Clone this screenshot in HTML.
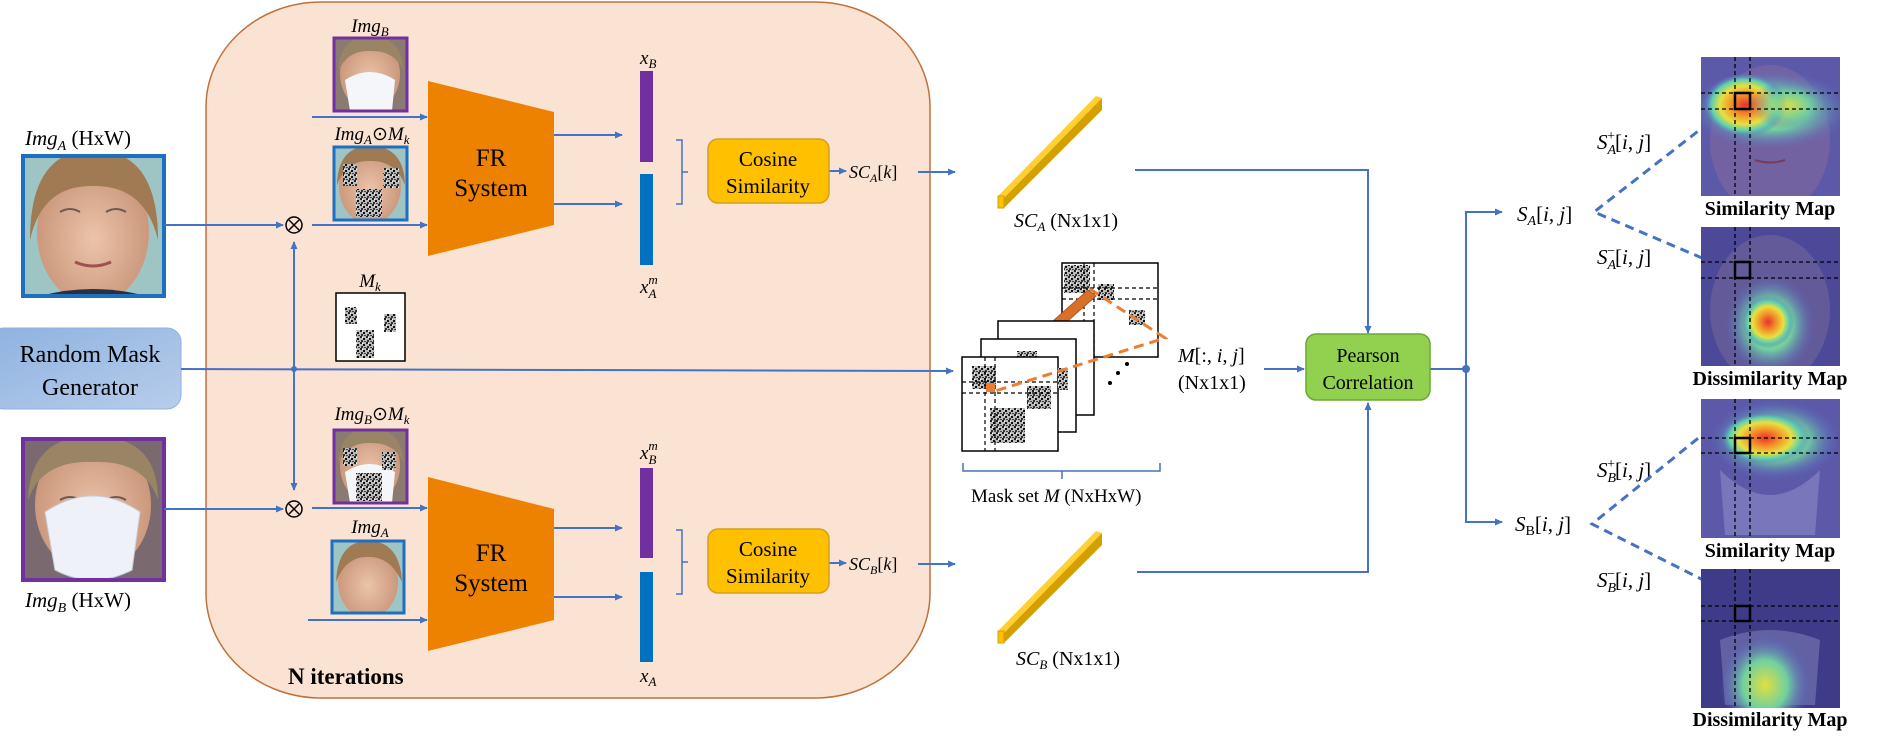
<!DOCTYPE html>
<html><head><meta charset="utf-8"><style>
html,body{margin:0;padding:0;background:#fff;}
svg{display:block;}
text{font-family:"Liberation Serif",serif;fill:#000;}
.it{font-style:italic;}
</style></head><body>
<svg width="1897" height="746" viewBox="0 0 1897 746" xmlns="http://www.w3.org/2000/svg">
<defs>
<marker id="ar" markerWidth="8" markerHeight="8" refX="7" refY="4" orient="auto" markerUnits="userSpaceOnUse"><path d="M0,0.5 L8,4 L0,7.5 Z" fill="#4472c4"/></marker>
<pattern id="noise" width="6" height="6" patternUnits="userSpaceOnUse"><rect width="6" height="6" fill="#bbb"/><rect x="0" y="0" width="2" height="2" fill="#222"/><rect x="3" y="2" width="2" height="2" fill="#111"/><rect x="1" y="4" width="2" height="2" fill="#333"/><rect x="4" y="5" width="2" height="1" fill="#444"/><rect x="2" y="1" width="1" height="1" fill="#fff"/></pattern>
<radialGradient id="hot" cx="50%" cy="50%" r="50%"><stop offset="0" stop-color="#e8322a"/><stop offset="0.35" stop-color="#f39a2a"/><stop offset="0.6" stop-color="#e8e040"/><stop offset="0.8" stop-color="#5cd0b0"/><stop offset="1" stop-color="#5a64c8" stop-opacity="0"/></radialGradient>
<radialGradient id="warm" cx="50%" cy="50%" r="50%"><stop offset="0" stop-color="#e0e040"/><stop offset="0.5" stop-color="#70d0a0"/><stop offset="1" stop-color="#5a64c8" stop-opacity="0"/></radialGradient>
<linearGradient id="rmg" x1="0" y1="0" x2="1" y2="1"><stop offset="0" stop-color="#8fb2e0"/><stop offset="1" stop-color="#b7cdeb"/></linearGradient>
<radialGradient id="skin" cx="50%" cy="55%" r="55%"><stop offset="0" stop-color="#ecc4aa"/><stop offset="1" stop-color="#c89478"/></radialGradient>
<clipPath id="cA"><rect x="23" y="156" width="141" height="140"/></clipPath>
<clipPath id="cB"><rect x="23" y="439" width="141" height="141"/></clipPath>
<clipPath id="c1"><rect x="334" y="38" width="73" height="73"/></clipPath>
<clipPath id="c2"><rect x="334" y="147" width="73" height="73"/></clipPath>
<clipPath id="c3"><rect x="334" y="430" width="73" height="73"/></clipPath>
<clipPath id="c4"><rect x="332" y="541" width="72" height="72"/></clipPath>
<clipPath id="h1"><rect x="1701" y="57" width="139" height="139"/></clipPath>
<clipPath id="h2"><rect x="1701" y="227" width="139" height="139"/></clipPath>
<clipPath id="h3"><rect x="1701" y="399" width="139" height="139"/></clipPath>
<clipPath id="h4"><rect x="1701" y="569" width="139" height="139"/></clipPath>
</defs>

<rect x="206" y="2" width="724" height="696" rx="115" ry="105" fill="#fbe3d4" stroke="#c0703a" stroke-width="1.5"/>

<!-- Img A big -->
<g clip-path="url(#cA)">
<rect x="23" y="156" width="141" height="140" fill="#9ec4c4"/>
<ellipse cx="93" cy="232" rx="56" ry="72" fill="url(#skin)"/>
<path d="M30,240 Q30,150 93,150 Q158,150 158,240 Q145,185 93,186 Q42,185 30,240Z" fill="#a07a52"/>
<path d="M60,212 Q70,206 80,212 M106,212 Q116,206 126,212" stroke="#6a5a55" stroke-width="2" fill="none"/>
<path d="M75,262 Q93,270 111,262" stroke="#a05050" stroke-width="3" fill="none"/>
<path d="M40,296 Q93,282 146,296Z" fill="#2a3040"/>
</g>
<rect x="23" y="156" width="141" height="140" fill="none" stroke="#1f6fc0" stroke-width="4"/>
<text x="25" y="145" font-size="21"><tspan class="it">Img</tspan><tspan class="it" font-size="14" dy="5">A</tspan><tspan dy="-5"> (HxW)</tspan></text>

<!-- Img B big -->
<g clip-path="url(#cB)">
<rect x="23" y="439" width="141" height="141" fill="#7a6a70"/>
<ellipse cx="93" cy="505" rx="58" ry="68" fill="url(#skin)"/>
<path d="M28,500 Q30,436 93,436 Q158,436 158,500 Q145,460 93,462 Q42,460 28,500Z" fill="#9a8466"/>
<path d="M60,500 Q70,494 80,500 M106,500 Q116,494 126,500" stroke="#6a5a55" stroke-width="2" fill="none"/>
<path d="M45,512 Q93,480 140,512 L132,570 Q93,590 55,570Z" fill="#eef2f8" stroke="#c8d0dc"/>
</g>
<rect x="23" y="439" width="141" height="141" fill="none" stroke="#7030a0" stroke-width="4"/>
<text x="25" y="607" font-size="21"><tspan class="it">Img</tspan><tspan class="it" font-size="14" dy="5">B</tspan><tspan dy="-5"> (HxW)</tspan></text>

<!-- Random Mask Generator -->
<rect x="-10" y="328" width="191" height="81" rx="14" fill="url(#rmg)" stroke="#8fb2e0"/>
<text x="90" y="362" font-size="24" text-anchor="middle">Random Mask</text>
<text x="90" y="395" font-size="24" text-anchor="middle">Generator</text>

<g stroke="#4472c4" stroke-width="2" fill="none">
<line x1="181" y1="369" x2="953" y2="371" marker-end="url(#ar)"/>
<line x1="294" y1="369" x2="294" y2="242" marker-end="url(#ar)"/>
<line x1="294" y1="369" x2="294" y2="490" marker-end="url(#ar)"/>
<line x1="164" y1="225" x2="283" y2="225" marker-end="url(#ar)"/>
<line x1="164" y1="509" x2="283" y2="509" marker-end="url(#ar)"/>
<line x1="312" y1="117" x2="427" y2="117" marker-end="url(#ar)"/>
<line x1="312" y1="225" x2="427" y2="225" marker-end="url(#ar)"/>
<line x1="312" y1="508" x2="427" y2="508" marker-end="url(#ar)"/>
<line x1="308" y1="620" x2="427" y2="620" marker-end="url(#ar)"/>
<line x1="554" y1="135" x2="622" y2="135" marker-end="url(#ar)"/>
<line x1="554" y1="204" x2="622" y2="204" marker-end="url(#ar)"/>
<line x1="554" y1="528" x2="622" y2="528" marker-end="url(#ar)"/>
<line x1="554" y1="597" x2="622" y2="597" marker-end="url(#ar)"/>
<line x1="829" y1="171" x2="846" y2="171" marker-end="url(#ar)"/>
<line x1="829" y1="563" x2="846" y2="563" marker-end="url(#ar)"/>
<line x1="918" y1="172" x2="955" y2="172" marker-end="url(#ar)"/>
<line x1="918" y1="564" x2="955" y2="564" marker-end="url(#ar)"/>
<path d="M1135,170 H1368 V333" marker-end="url(#ar)"/>
<path d="M1137,572 H1368 V403" marker-end="url(#ar)"/>
<line x1="1264" y1="369" x2="1304" y2="369" marker-end="url(#ar)"/>
<line x1="1430" y1="369" x2="1466" y2="369"/>
<path d="M1466,369 V212 H1502" marker-end="url(#ar)"/>
<path d="M1466,369 V522 H1502" marker-end="url(#ar)"/>
</g>
<circle cx="294" cy="369" r="3" fill="#4472c4"/>
<circle cx="1466" cy="369" r="4" fill="#4472c4"/>

<g fill="none" stroke="#000" stroke-width="1.5">
<circle cx="294" cy="225" r="8"/><line x1="289" y1="220" x2="299" y2="230"/><line x1="299" y1="220" x2="289" y2="230"/>
<circle cx="294" cy="509" r="8"/><line x1="289" y1="504" x2="299" y2="514"/><line x1="299" y1="504" x2="289" y2="514"/>
</g>

<!-- small images -->
<text x="370" y="32" font-size="19" text-anchor="middle"><tspan class="it">Img</tspan><tspan class="it" font-size="13" dy="4">B</tspan></text>
<g clip-path="url(#c1)">
<rect x="334" y="38" width="73" height="73" fill="#8a7a70"/>
<ellipse cx="370" cy="74" rx="30" ry="36" fill="url(#skin)"/>
<path d="M338,72 Q340,36 370,36 Q402,36 404,72 Q395,50 370,51 Q347,50 338,72Z" fill="#9a8466"/>
<path d="M345,80 Q370,64 395,80 L392,111 L350,111Z" fill="#f4f6fa"/>
</g>
<rect x="334" y="38" width="73" height="73" fill="none" stroke="#7030a0" stroke-width="3"/>

<text x="372" y="140" font-size="19" text-anchor="middle"><tspan class="it">Img</tspan><tspan class="it" font-size="13" dy="4">A</tspan><tspan dy="-4">⊙</tspan><tspan class="it">M</tspan><tspan class="it" font-size="13" dy="4">k</tspan></text>
<g clip-path="url(#c2)">
<rect x="334" y="147" width="73" height="73" fill="#9ec4c4"/>
<ellipse cx="370" cy="186" rx="31" ry="38" fill="url(#skin)"/>
<path d="M337,185 Q338,146 370,146 Q404,146 405,185 Q395,160 370,161 Q346,160 337,185Z" fill="#a07a52"/>
<rect x="343" y="164" width="14" height="22" fill="url(#noise)"/><rect x="383" y="168" width="16" height="20" fill="url(#noise)"/><rect x="356" y="189" width="26" height="28" fill="url(#noise)"/>
</g>
<rect x="334" y="147" width="73" height="73" fill="none" stroke="#1f6fc0" stroke-width="3"/>

<text x="370" y="287" font-size="19" text-anchor="middle" class="it">M<tspan font-size="13" dy="4">k</tspan></text>
<rect x="336" y="293" width="69" height="68" fill="#fff" stroke="#000" stroke-width="1.5"/>
<rect x="345" y="307" width="12" height="17" fill="url(#noise)"/><rect x="384" y="314" width="12" height="18" fill="url(#noise)"/><rect x="356" y="330" width="18" height="28" fill="url(#noise)"/>

<text x="372" y="420" font-size="19" text-anchor="middle"><tspan class="it">Img</tspan><tspan class="it" font-size="13" dy="4">B</tspan><tspan dy="-4">⊙</tspan><tspan class="it">M</tspan><tspan class="it" font-size="13" dy="4">k</tspan></text>
<g clip-path="url(#c3)">
<rect x="334" y="430" width="73" height="73" fill="#8a7a70"/>
<ellipse cx="370" cy="466" rx="30" ry="36" fill="url(#skin)"/>
<path d="M338,464 Q340,428 370,428 Q402,428 404,464 Q395,442 370,443 Q347,442 338,464Z" fill="#9a8466"/>
<path d="M345,472 Q370,456 395,472 L392,503 L350,503Z" fill="#f4f6fa"/>
<rect x="343" y="448" width="14" height="18" fill="url(#noise)"/><rect x="382" y="452" width="14" height="18" fill="url(#noise)"/><rect x="356" y="473" width="26" height="28" fill="url(#noise)"/>
</g>
<rect x="334" y="430" width="73" height="73" fill="none" stroke="#7030a0" stroke-width="3"/>

<text x="370" y="533" font-size="19" text-anchor="middle"><tspan class="it">Img</tspan><tspan class="it" font-size="13" dy="4">A</tspan></text>
<g clip-path="url(#c4)">
<rect x="332" y="541" width="72" height="72" fill="#9ec4c4"/>
<ellipse cx="368" cy="582" rx="30" ry="36" fill="url(#skin)"/>
<path d="M336,582 Q338,541 368,541 Q400,541 402,582 Q390,556 368,557 Q346,556 336,582Z" fill="#a07a52"/>
</g>
<rect x="332" y="541" width="72" height="72" fill="none" stroke="#1f6fc0" stroke-width="3"/>

<!-- FR -->
<polygon points="428,81 554,112 554,225 428,256" fill="#ed8200"/>
<text x="491" y="166" font-size="25" text-anchor="middle">FR</text>
<text x="491" y="196" font-size="25" text-anchor="middle">System</text>
<polygon points="428,477 554,509 554,620 428,651" fill="#ed8200"/>
<text x="491" y="561" font-size="25" text-anchor="middle">FR</text>
<text x="491" y="591" font-size="25" text-anchor="middle">System</text>

<rect x="640" y="71" width="13" height="91" fill="#7030a0"/>
<rect x="640" y="174" width="13" height="91" fill="#0070c0"/>
<rect x="640" y="468" width="13" height="90" fill="#7030a0"/>
<rect x="640" y="572" width="13" height="90" fill="#0070c0"/>
<text x="640" y="64" font-size="19" class="it">x<tspan font-size="13" dy="4">B</tspan></text>
<text x="640" y="293" font-size="19" class="it">x<tspan font-size="13" dy="5">A</tspan><tspan font-size="13" dx="-8" dy="-14">m</tspan></text>
<text x="640" y="459" font-size="19" class="it">x<tspan font-size="13" dy="5">B</tspan><tspan font-size="13" dx="-8" dy="-14">m</tspan></text>
<text x="640" y="682" font-size="19" class="it">x<tspan font-size="13" dy="4">A</tspan></text>

<g fill="none" stroke="#4472c4" stroke-width="1.5">
<path d="M676,140 H682 V204 H676 M682,172 H688"/>
<path d="M676,530 H682 V594 H676 M682,562 H688"/>
<path d="M963,463 V471 H1160 V463 M1062,471 V479"/>
</g>

<rect x="708" y="139" width="121" height="64" rx="10" fill="#ffc000" stroke="#d4a020" stroke-width="1.5"/>
<text x="768" y="166" font-size="21" text-anchor="middle">Cosine</text>
<text x="768" y="193" font-size="21" text-anchor="middle">Similarity</text>
<rect x="708" y="529" width="121" height="64" rx="10" fill="#ffc000" stroke="#d4a020" stroke-width="1.5"/>
<text x="768" y="556" font-size="21" text-anchor="middle">Cosine</text>
<text x="768" y="583" font-size="21" text-anchor="middle">Similarity</text>

<text x="849" y="178" font-size="18" class="it">SC<tspan font-size="12" dy="4">A</tspan><tspan dy="-4" font-style="normal">[</tspan>k<tspan font-style="normal">]</tspan></text>
<text x="849" y="570" font-size="18" class="it">SC<tspan font-size="12" dy="4">B</tspan><tspan dy="-4" font-style="normal">[</tspan>k<tspan font-style="normal">]</tspan></text>

<text x="288" y="684" font-size="23" font-weight="bold">N iterations</text>

<!-- yellow bars -->
<g>
<polygon points="998,196 1096,96 1102,98 1004,198" fill="#ffd030"/>
<polygon points="1004,198 1102,98 1102,110 1004,208" fill="#d4a000"/>
<rect x="998" y="196" width="6" height="12" fill="#ffc000" stroke="#d4a000"/>
<polygon points="998,631 1096,531 1102,533 1004,633" fill="#ffd030"/>
<polygon points="1004,633 1102,533 1102,545 1004,643" fill="#d4a000"/>
<rect x="998" y="631" width="6" height="12" fill="#ffc000" stroke="#d4a000"/>
</g>
<text x="1014" y="227" font-size="20"><tspan class="it">SC</tspan><tspan class="it" font-size="13" dy="4">A</tspan><tspan dy="-4"> (Nx1x1)</tspan></text>
<text x="1016" y="665" font-size="20"><tspan class="it">SC</tspan><tspan class="it" font-size="13" dy="4">B</tspan><tspan dy="-4"> (Nx1x1)</tspan></text>

<!-- mask stack -->
<g stroke="#000" stroke-width="1.5">
<rect x="1062" y="263" width="96" height="94" fill="#fff"/>
<rect x="1064" y="265" width="26" height="28" fill="url(#noise)" stroke="none"/>
<rect x="1098" y="284" width="16" height="16" fill="url(#noise)" stroke="none"/>
<rect x="1129" y="310" width="16" height="15" fill="url(#noise)" stroke="none"/>
<g stroke-dasharray="4,3" stroke-width="1.2"><line x1="1062" y1="288" x2="1158" y2="288"/><line x1="1062" y1="299" x2="1158" y2="299"/><line x1="1084" y1="263" x2="1084" y2="357"/><line x1="1094" y1="263" x2="1094" y2="357"/></g>
<polygon points="1053,321 1088,290 1096,296 1063,325" fill="#d9702a" stroke="#b05a20" stroke-width="1"/>
<rect x="998" y="321" width="96" height="94" fill="#fff"/>
<rect x="981" y="339" width="95" height="93" fill="#fff"/>
<rect x="1017" y="351" width="20" height="6" fill="url(#noise)" stroke="none"/>
<rect x="962" y="357" width="96" height="94" fill="#fff"/>
<rect x="972" y="366" width="24" height="23" fill="url(#noise)" stroke="none"/>
<rect x="1027" y="386" width="24" height="23" fill="url(#noise)" stroke="none"/>
<rect x="990" y="408" width="35" height="35" fill="url(#noise)" stroke="none"/>
<rect x="1058" y="368" width="10" height="22" fill="url(#noise)" stroke="none"/>
<g stroke-dasharray="4,3" stroke-width="1.2"><line x1="962" y1="382" x2="1058" y2="382"/><line x1="962" y1="393" x2="1058" y2="393"/><line x1="985" y1="357" x2="985" y2="451"/><line x1="995" y1="357" x2="995" y2="451"/></g>
<rect x="986" y="383" width="9" height="9" fill="#ed7d31" stroke="none"/>
</g>
<g fill="none" stroke="#ed7d31" stroke-width="3" stroke-dasharray="10,6">
<path d="M1090,289 L1165,338 L992,392"/>
</g>
<circle cx="1110" cy="383" r="2" fill="#000"/><circle cx="1118" cy="373" r="2" fill="#000"/><circle cx="1127" cy="364" r="2" fill="#000"/>
<text x="971" y="502" font-size="19">Mask set <tspan class="it">M</tspan> (NxHxW)</text>

<text x="1178" y="362" font-size="20"><tspan class="it">M</tspan>[:, <tspan class="it">i</tspan>, <tspan class="it">j</tspan>]</text>
<text x="1178" y="389" font-size="20">(Nx1x1)</text>

<rect x="1306" y="334" width="124" height="66" rx="10" fill="#92d050" stroke="#6aa830" stroke-width="1.5"/>
<text x="1368" y="362" font-size="20" text-anchor="middle">Pearson</text>
<text x="1368" y="389" font-size="20" text-anchor="middle">Correlation</text>

<text x="1517" y="221" font-size="21" class="it">S<tspan font-size="14" dy="4">A</tspan><tspan dy="-4" font-style="normal">[</tspan>i<tspan font-style="normal">, </tspan>j<tspan font-style="normal">]</tspan></text>
<text x="1515" y="531" font-size="21" class="it">S<tspan font-size="14" dy="4" font-style="normal">B</tspan><tspan dy="-4" font-style="normal">[</tspan>i<tspan font-style="normal">, </tspan>j<tspan font-style="normal">]</tspan></text>
<text x="1597" y="149" font-size="21" class="it">S<tspan font-size="14" dy="5">A</tspan><tspan font-size="14" dx="-9" dy="-14" font-style="normal">+</tspan><tspan dy="9" font-style="normal">[</tspan>i<tspan font-style="normal">, </tspan>j<tspan font-style="normal">]</tspan></text>
<text x="1597" y="264" font-size="21" class="it">S<tspan font-size="14" dy="5">A</tspan><tspan font-size="14" dx="-9" dy="-14" font-style="normal">−</tspan><tspan dy="9" font-style="normal">[</tspan>i<tspan font-style="normal">, </tspan>j<tspan font-style="normal">]</tspan></text>
<text x="1597" y="477" font-size="21" class="it">S<tspan font-size="14" dy="5">B</tspan><tspan font-size="14" dx="-9" dy="-14" font-style="normal">+</tspan><tspan dy="9" font-style="normal">[</tspan>i<tspan font-style="normal">, </tspan>j<tspan font-style="normal">]</tspan></text>
<text x="1597" y="587" font-size="21" class="it">S<tspan font-size="14" dy="5">B</tspan><tspan font-size="14" dx="-9" dy="-14" font-style="normal">−</tspan><tspan dy="9" font-style="normal">[</tspan>i<tspan font-style="normal">, </tspan>j<tspan font-style="normal">]</tspan></text>

<g fill="none" stroke="#4472c4" stroke-width="3" stroke-dasharray="9,6">
<path d="M1733,104 L1594,212 L1735,272"/>
<path d="M1733,410 L1592,524 L1735,596"/>
</g>

<!-- heatmaps -->
<g clip-path="url(#h1)">
<rect x="1701" y="57" width="139" height="139" fill="#5c5aa8"/>
<ellipse cx="1770" cy="140" rx="60" ry="75" fill="#8a6a9a" opacity="0.5"/>
<ellipse cx="1770" cy="110" rx="80" ry="40" fill="url(#warm)"/>
<ellipse cx="1745" cy="105" rx="42" ry="32" fill="url(#hot)"/>
<ellipse cx="1790" cy="105" rx="40" ry="25" fill="url(#warm)" opacity="0.7"/>
<path d="M1755,160 Q1770,165 1785,160" stroke="#7a3a5a" stroke-width="2" fill="none"/>
</g>
<g clip-path="url(#h2)">
<rect x="1701" y="227" width="139" height="139" fill="#4c4a98"/>
<ellipse cx="1770" cy="310" rx="60" ry="75" fill="#7a6a9a" opacity="0.5"/>
<ellipse cx="1770" cy="325" rx="45" ry="50" fill="url(#warm)"/>
<ellipse cx="1768" cy="322" rx="26" ry="26" fill="url(#hot)"/>
</g>
<g clip-path="url(#h3)">
<rect x="1701" y="399" width="139" height="139" fill="#5c5aa8"/>
<path d="M1720,470 Q1770,520 1820,470 L1815,535 L1725,535Z" fill="#8a8ac8" opacity="0.6"/>
<ellipse cx="1775" cy="440" rx="65" ry="40" fill="url(#warm)"/>
<ellipse cx="1765" cy="438" rx="45" ry="26" fill="url(#hot)"/>
</g>
<g clip-path="url(#h4)">
<rect x="1701" y="569" width="139" height="139" fill="#3e3c88"/>
<path d="M1720,640 Q1770,620 1820,640 L1815,705 L1725,705Z" fill="#7a7ab8" opacity="0.6"/>
<ellipse cx="1765" cy="685" rx="45" ry="50" fill="url(#warm)"/>
</g>
<g stroke="#000" stroke-width="1.3" stroke-dasharray="4,3" fill="none">
<line x1="1701" y1="93" x2="1840" y2="93"/><line x1="1701" y1="109" x2="1840" y2="109"/><line x1="1735" y1="57" x2="1735" y2="196"/><line x1="1750" y1="57" x2="1750" y2="196"/>
<line x1="1701" y1="262" x2="1840" y2="262"/><line x1="1701" y1="278" x2="1840" y2="278"/><line x1="1735" y1="227" x2="1735" y2="366"/><line x1="1750" y1="227" x2="1750" y2="366"/>
<line x1="1701" y1="438" x2="1840" y2="438"/><line x1="1701" y1="453" x2="1840" y2="453"/><line x1="1735" y1="399" x2="1735" y2="538"/><line x1="1750" y1="399" x2="1750" y2="538"/>
<line x1="1701" y1="606" x2="1840" y2="606"/><line x1="1701" y1="621" x2="1840" y2="621"/><line x1="1735" y1="569" x2="1735" y2="708"/><line x1="1750" y1="569" x2="1750" y2="708"/>
</g>
<g stroke="#000" stroke-width="2.5" fill="none">
<rect x="1735" y="93" width="15" height="16"/><rect x="1735" y="262" width="15" height="16"/><rect x="1735" y="438" width="15" height="15"/><rect x="1735" y="606" width="15" height="15"/>
</g>
<g font-size="20" font-weight="bold" text-anchor="middle">
<text x="1770" y="215">Similarity Map</text>
<text x="1770" y="385">Dissimilarity Map</text>
<text x="1770" y="557">Similarity Map</text>
<text x="1770" y="726">Dissimilarity Map</text>
</g>
</svg>
</body></html>
